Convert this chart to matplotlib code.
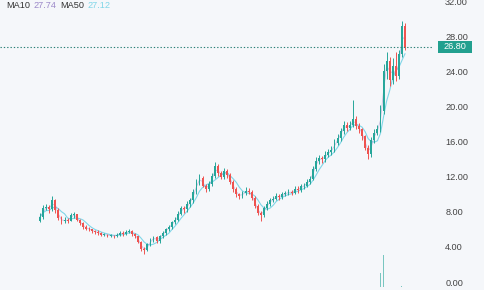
import matplotlib as mpl

mpl.use("Agg")

import matplotlib.pyplot as plt
import numpy as np
import pandas as pd
from matplotlib.patches import Rectangle

# candle data (one candle per slot, left to right)
first_open = 7.0
closes = [
    7.4, 8.4, 8.6, 8.3, 9.4, 8.2, 7.3, 6.9, 7.1, 7.0,
    7.6, 7.7, 7.1, 6.7, 6.3, 6.1, 6.0, 5.8, 5.7, 5.6,
    5.4, 5.4, 5.3, 5.3, 5.2, 5.4, 5.6, 5.5, 5.7, 5.8,
    5.5, 5.2, 4.6, 3.8, 3.6, 4.3, 4.8, 5.1, 4.7, 5.2,
    5.6, 6.0, 6.3, 6.8, 7.1, 7.8, 8.4, 8.3, 8.9, 9.3,
    10.3, 11.4, 11.9, 11.0, 10.6, 11.2, 12.1, 13.2, 12.4, 12.0,
    12.6, 12.2, 11.4, 10.6, 10.0, 9.8, 10.1, 10.4, 10.3, 9.6,
    8.7, 7.9, 7.6, 8.4, 8.9, 9.3, 9.5, 9.8, 9.7, 10.0,
    10.1, 10.3, 10.2, 10.6, 10.5, 10.9, 11.0, 11.4, 11.8, 12.9,
    13.8, 14.1, 14.0, 14.5, 14.8, 15.1, 15.9, 16.4, 17.2, 17.9,
    17.6, 17.9, 18.6, 17.8, 17.4, 16.6, 15.3, 14.6, 16.2, 17.0,
    17.4, 19.5, 24.0, 25.2, 23.0, 24.6, 23.5, 26.0, 29.2, 26.8,
]
highs = [
    7.9, 8.8, 8.9, 8.8, 9.8, 9.5, 8.4, 7.5, 7.4, 7.3,
    7.9, 8.0, 7.8, 7.2, 6.8, 6.5, 6.3, 6.1, 5.9, 5.9,
    5.7, 5.6, 5.5, 5.5, 5.4, 5.6, 5.8, 5.8, 5.9, 6.0,
    5.9, 5.6, 5.3, 4.7, 4.0, 4.5, 5.0, 5.3, 5.2, 5.4,
    5.8, 6.2, 6.5, 7.0, 7.4, 8.1, 8.7, 8.7, 9.2, 9.6,
    10.6, 11.8, 12.3, 12.1, 11.2, 11.5, 12.4, 13.7, 13.4, 12.7,
    13.0, 12.9, 12.4, 11.6, 10.8, 10.2, 10.4, 10.8, 10.7, 10.5,
    9.8, 8.9, 8.1, 8.7, 9.2, 9.6, 9.8, 10.1, 10.0, 10.3,
    10.4, 10.6, 10.5, 10.9, 10.9, 11.2, 11.3, 11.7, 12.1, 13.2,
    14.2, 14.5, 14.4, 14.9, 15.2, 15.5, 16.3, 16.9, 17.6, 18.4,
    18.2, 18.3, 20.7, 18.9, 18.1, 17.6, 16.8, 15.6, 16.5, 17.4,
    17.9, 20.2, 24.8, 26.2, 25.6, 25.5, 26.2, 26.4, 29.8, 29.5,
]
lows = [
    6.8, 7.2, 8.2, 7.9, 8.1, 7.9, 7.1, 6.6, 6.7, 6.7,
    6.9, 7.3, 6.9, 6.5, 6.1, 5.9, 5.8, 5.6, 5.5, 5.4,
    5.2, 5.2, 5.1, 5.1, 5.0, 5.1, 5.3, 5.3, 5.4, 5.6,
    5.3, 5.0, 4.4, 3.5, 3.2, 3.5, 4.1, 4.6, 4.4, 4.5,
    5.0, 5.4, 5.8, 6.1, 6.6, 6.9, 7.6, 7.9, 8.0, 8.6,
    9.0, 10.0, 11.1, 10.8, 10.3, 10.4, 11.0, 11.9, 12.1, 11.7,
    11.8, 11.9, 11.2, 10.3, 9.7, 9.5, 9.6, 9.9, 10.0, 9.3,
    8.4, 7.6, 7.0, 7.4, 8.2, 8.7, 9.1, 9.3, 9.4, 9.5,
    9.8, 9.9, 9.9, 10.0, 10.2, 10.3, 10.6, 10.8, 11.2, 11.6,
    12.6, 13.5, 13.6, 13.7, 14.2, 14.5, 14.8, 15.6, 16.1, 16.9,
    17.2, 17.3, 17.7, 17.5, 17.0, 16.2, 15.0, 14.0, 14.3, 15.9,
    16.8, 17.1, 19.2, 23.1, 22.4, 22.6, 22.9, 23.1, 25.6, 26.4,
]
volumes = [
    1.2, 1.5, 1.0, 0.8, 1.6, 1.1, 0.9, 0.7, 0.6, 0.6,
    0.8, 0.7, 0.6, 0.5, 0.5, 0.4, 0.4, 0.4, 0.4, 0.3,
    0.3, 0.3, 0.3, 0.3, 0.3, 0.3, 0.4, 0.3, 0.4, 0.4,
    0.4, 0.5, 0.7, 1.0, 0.9, 0.8, 0.6, 0.5, 0.5, 0.5,
    0.5, 0.6, 0.6, 0.7, 0.7, 0.9, 1.0, 0.8, 0.9, 1.0,
    1.3, 1.6, 1.4, 1.1, 0.9, 0.9, 1.2, 1.5, 1.2, 0.9,
    1.0, 0.9, 0.9, 1.0, 0.8, 0.7, 0.6, 0.6, 0.6, 0.7,
    0.9, 1.0, 1.1, 0.9, 0.7, 0.6, 0.6, 0.6, 0.5, 0.5,
    0.5, 0.5, 0.5, 0.6, 0.5, 0.6, 0.6, 0.7, 0.8, 1.1,
    1.3, 1.1, 0.9, 0.9, 0.9, 0.9, 1.1, 1.1, 1.2, 1.4,
    1.2, 1.1, 1.8, 1.3, 1.1, 1.2, 1.4, 1.5, 1.3, 1.2,
    1.4, 45.0, 100.0, 1.8, 1.6, 1.4, 1.5, 1.8, 4.0, 1.9,
]
ma10_label = "27.74"
ma50_label = "27.12"
price_ticks = [0, 4, 8, 12, 16, 20, 24, 28, 32]

UP = "#26a69a"
DOWN = "#ef5350"
BG = "#f5f7fa"
MA10_COLOR = "#9c89c9"
MA50_COLOR = "#80d6e8"

W, H = 485, 290
PLOT_RIGHT = 432


def main() -> None:
    c = np.asarray(closes, dtype=float)
    o = np.asarray([first_open] + closes[:-1], dtype=float)
    hi = np.asarray(highs, dtype=float)
    lo = np.asarray(lows, dtype=float)
    vol = np.asarray(volumes, dtype=float)
    x = np.arange(len(c))
    up = c >= o
    colors = np.where(up, UP, DOWN)

    plt.rcParams["font.family"] = ["Liberation Sans", "DejaVu Sans"]
    fig = plt.figure(figsize=(W / 100, H / 100), dpi=100)
    fig.patch.set_facecolor(BG)
    ax = fig.add_axes([0, 0, PLOT_RIGHT / W, 1])
    ax.set_facecolor(BG)

    # candle slots: first at 40 px, last at 405 px
    step = (405 - 40) / (len(c) - 1)
    ax.set_xlim(-40 / step, (PLOT_RIGHT - 40) / step)
    ax.set_ylim(-0.91, 32.15)

    # volume pane sits on the bottom edge
    vax = ax.twinx()
    vax.set_ylim(-8, 8 + 290 / (36 / 108))
    vax.bar(x, vol, width=0.35, color=colors, alpha=0.6, linewidth=0)
    vax.set_axis_off()

    ax.set_zorder(vax.get_zorder() + 1)
    ax.patch.set_visible(False)

    ax.vlines(x, lo, hi, colors=colors, linewidth=0.7, zorder=3)
    body = np.where(np.abs(c - o) < 0.06, 0.06, c - o)
    ax.bar(x, body, bottom=o, width=0.6, color=colors, linewidth=0, zorder=4)

    # bars are ~5 sessions each, so the averages use shorter windows
    s = pd.Series(c)
    ax.plot(x, s.rolling(5, min_periods=1).mean(), color=MA50_COLOR, linewidth=0.8, zorder=2)
    ax.plot(x, s.rolling(2, min_periods=1).mean(), color=MA10_COLOR, linewidth=0.6, alpha=0.5, zorder=2)

    # last price line and tag
    last = c[-1]
    ax.axhline(last, color="#2b7f76", linewidth=0.8, linestyle=(0, (1.2, 1.8)), zorder=5)
    ytr = ax.get_yaxis_transform()
    box_h = 11.6 / (290 / (32.15 + 0.91))
    ax.add_patch(Rectangle((438 / PLOT_RIGHT, last - box_h / 2), 34 / PLOT_RIGHT, box_h,
                           transform=ytr, facecolor="#22a08f", edgecolor="none", clip_on=False, zorder=6))
    ax.text(455 / PLOT_RIGHT, last, f"{last:.2f}", transform=ytr, ha="center", va="center",
            color="white", fontsize=6.6, clip_on=False, zorder=7)

    ax.yaxis.tick_right()
    ax.set_yticks(price_ticks)
    ax.set_yticklabels([f"{v:.2f}" for v in price_ticks])
    ax.tick_params(axis="y", length=0, pad=9.5, labelsize=6.6, labelcolor="#444444")
    ax.set_xticks([])
    for sp in ax.spines.values():
        sp.set_visible(False)

    # legend line at the top left, chained segment by segment
    renderer = fig.canvas.get_renderer()
    xpos = 6 / W
    ypos = 1 - 7.5 / H
    for txt, col in [("MA10", "#333333"), (ma10_label, MA10_COLOR),
                     ("MA50", "#333333"), (ma50_label, MA50_COLOR)]:
        t = fig.text(xpos, ypos, txt, color=col, fontsize=6.6, va="baseline", ha="left")
        bb = t.get_window_extent(renderer)
        xpos += (bb.width + 3.5) / W

    fig.savefig("out.png", dpi=100, facecolor=BG)
    plt.close(fig)


if __name__ == "__main__":
    main()
